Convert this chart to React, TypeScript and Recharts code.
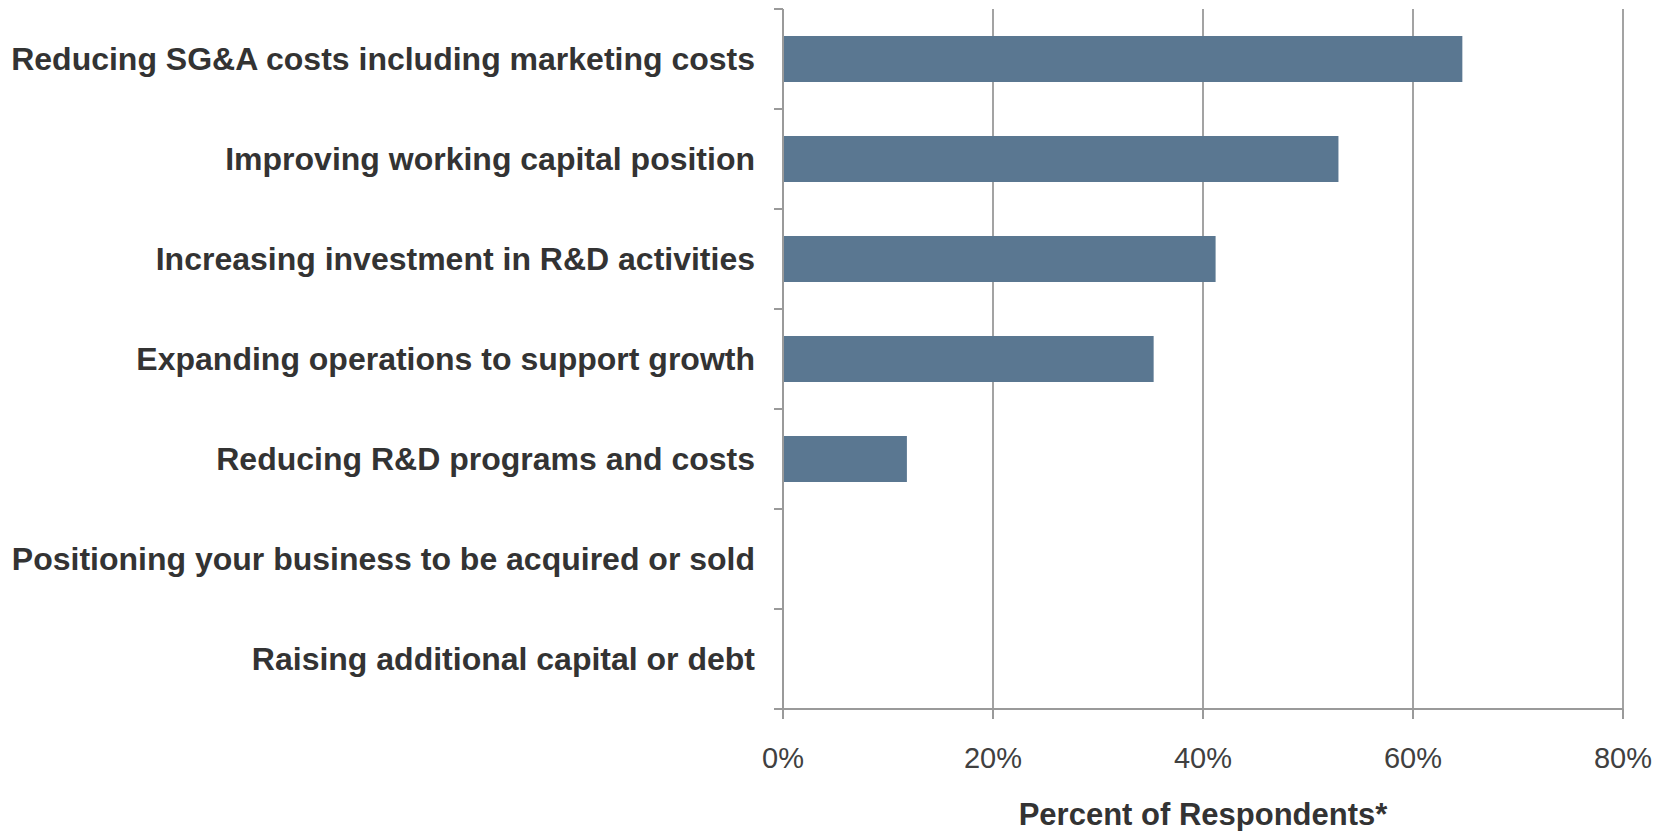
import { BarChart, Bar, XAxis, YAxis, CartesianGrid, Label } from "recharts";

// Survey categories, top to bottom
const categories = [
  "Reducing SG&A costs including marketing costs",
  "Improving working capital position",
  "Increasing investment in R&D activities",
  "Expanding operations to support growth",
  "Reducing R&D programs and costs",
  "Positioning your business to be acquired or sold",
  "Raising additional capital or debt",
];

// Percent of respondents
const percents = [64.7, 52.9, 41.2, 35.3, 11.8, 0, 0];

const xTicks = [0, 20, 40, 60, 80];

const BAR_COLOR = "#5a7791";
const GRID_COLOR = "#a3a3a3";
const AXIS_COLOR = "#9a9a9a";
const TEXT_COLOR = "#333333";
const FONT = "'Liberation Sans', Arial, sans-serif";

const TICK_SIZE = 9;
const TICK_MARGIN = 19;

const data = categories.map((name, i) => ({ name, value: percents[i] }));

// category tick: label at band centre, tick mark at band boundaries (like Excel)
function CategoryTick(props: any) {
  const { x, y, payload, index } = props;
  const half = payload?.offset ?? 50;
  const x1 = x + TICK_MARGIN;
  const x2 = x1 + TICK_SIZE;
  return (
    <g>
      <line x1={x1} x2={x2} y1={y - half} y2={y - half} stroke={AXIS_COLOR} strokeWidth={2} />
      {index === categories.length - 1 && (
        <line x1={x1} x2={x2} y1={y + half} y2={y + half} stroke={AXIS_COLOR} strokeWidth={2} />
      )}
      <text
        x={x}
        y={y}
        dy="0.355em"
        textAnchor="end"
        fill={TEXT_COLOR}
        fontSize={32}
        fontWeight={700}
        fontFamily={FONT}
      >
        {payload.value}
      </text>
    </g>
  );
}

export default function App() {
  return (
    <div style={{ position: "absolute", left: 0, top: 0, width: 1670, height: 831, background: "#fff" }}>
      <BarChart
        width={1670}
        height={831}
        data={data}
        layout="vertical"
        margin={{ top: 9, right: 47, left: 0, bottom: 0 }}
        barSize={46}
      >
        <CartesianGrid horizontal={false} stroke={GRID_COLOR} strokeWidth={2} />
        <XAxis
          type="number"
          domain={[0, 80]}
          ticks={xTicks}
          tickFormatter={(v: number) => `${v}%`}
          height={122}
          stroke={AXIS_COLOR}
          strokeWidth={2}
          tickSize={10}
          tickMargin={28}
          tick={{ fill: "#404040", fontSize: 29, fontFamily: FONT }}
          interval={0}
        >
          <Label
            value="Percent of Respondents*"
            position="insideBottom"
            offset={6}
            fill={TEXT_COLOR}
            fontSize={31}
            fontWeight={700}
            fontFamily={FONT}
          />
        </XAxis>
        <YAxis
          type="category"
          dataKey="name"
          width={783}
          stroke={AXIS_COLOR}
          strokeWidth={2}
          tickLine={false}
          tickSize={TICK_SIZE}
          tickMargin={TICK_MARGIN}
          tick={<CategoryTick />}
          interval={0}
        />
        <Bar dataKey="value" fill={BAR_COLOR} isAnimationActive={false} />
      </BarChart>
    </div>
  );
}
